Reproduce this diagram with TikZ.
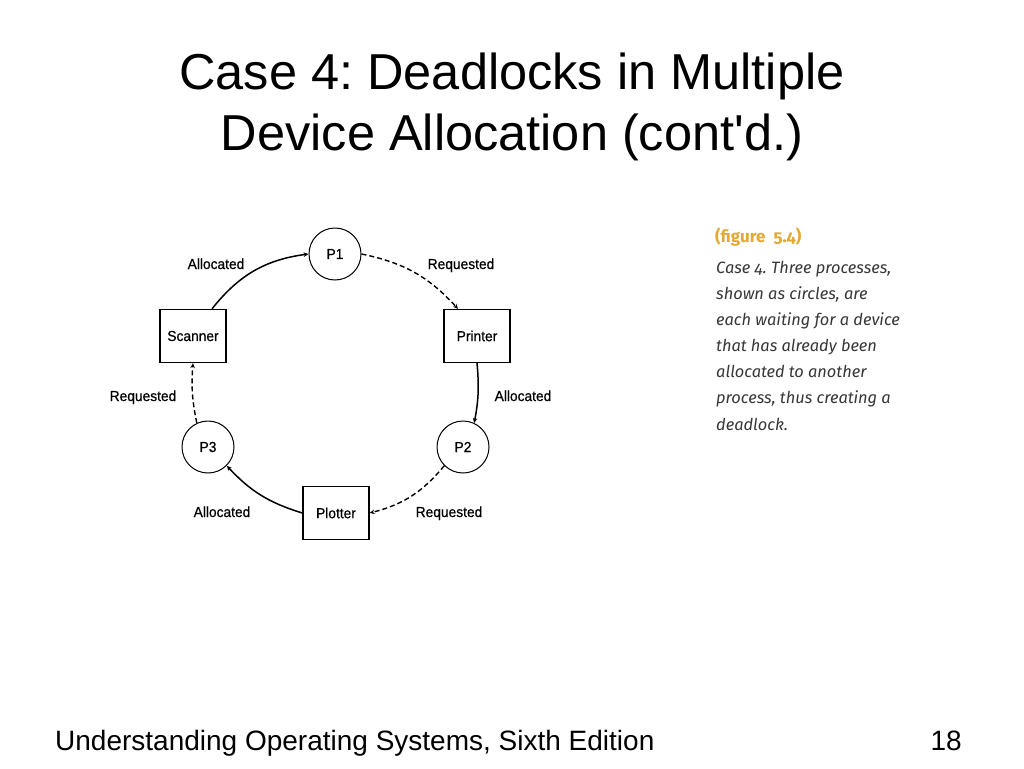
\documentclass[tikz,border=0pt]{standalone}
\usepackage{fontspec}
\setmainfont{Liberation Sans}
\newfontfamily\narrowfont[FakeStretch=0.95,FakeBold=0.6]{Liberation Sans}
\newfontfamily\capfont[Numbers=OldStyle]{Fira Sans}
\usetikzlibrary{arrows.meta}
\definecolor{capgold}{RGB}{228,168,52}
\definecolor{capgray}{RGB}{55,55,55}
\frenchspacing
\tikzset{
  proc/.style={draw, circle, line width=1pt, minimum size=52pt, inner sep=0pt, font=\narrowfont\fontsize{14.5}{16}\selectfont},
  dev/.style={draw, rectangle, line width=1.3pt, minimum width=66pt, minimum height=53pt, inner sep=0pt, font=\narrowfont\fontsize{14.5}{16}\selectfont},
  lbl/.style={anchor=base, inner sep=0pt, font=\narrowfont\fontsize{14.5}{16}\selectfont},
  alloc/.style={line width=1.5pt, -{Stealth[length=5pt,width=4.5pt]}},
  req/.style={line width=1.4pt, dash pattern=on 5pt off 3pt, -{Stealth[length=5pt,width=4.5pt]}},
  title/.style={anchor=base, inner sep=0pt, font=\fontsize{50.5}{60}\selectfont},
  foot/.style={anchor=base west, inner sep=0pt, font=\fontsize{28}{32}\selectfont},
  capl/.style={anchor=base west, inner sep=0pt, text=capgray, font=\capfont\itshape\fontsize{16.4}{18}\selectfont}
}
\begin{document}
\begin{tikzpicture}[x=1pt,y=-1pt]
\useasboundingbox (0,0) rectangle (1024,768);
\fill[white] (0,0) rectangle (1024,768);

% title
\node[title] (t1) at (512,89) {Case 4: Deadlocks in Multiple};
\node[title] (t2) at (512,150) {Device Allocation (cont\textquotesingle d.)};

% diagram nodes
\node[proc] (p1) at (335,254) {P1};
\node[proc] (p2) at (463,447) {P2};
\node[proc] (p3) at (208,447) {P3};
\node[dev] (scanner) at (193,336) {Scanner};
\node[dev] (printer) at (477,336) {Printer};
\node[dev] (plotter) at (336,513) {Plotter};

% connectors
\draw[alloc] (scanner.55) to[bend left=22] (p1.west);
\draw[req] (p1.east) to[bend left=18] (printer.125);
\draw[alloc] (printer.south) to[bend left=8] (p2.65);
\draw[req] (p2.225) to[bend left=18] (plotter.east);
\draw[alloc] (plotter.west) to[bend left=15] (p3.-45);
\draw[req] (p3.115) to[bend left=8] (scanner.south);

% labels
\node[lbl] (l1) at (216,269) {Allocated};
\node[lbl] (l2) at (461,269) {Requested};
\node[lbl] (l3) at (143,401) {Requested};
\node[lbl] (l4) at (523,401) {Allocated};
\node[lbl] (l5) at (222,517) {Allocated};
\node[lbl] (l6) at (449,517) {Requested};

% caption
\node[anchor=base west, inner sep=0pt, text=capgold, font=\capfont\bfseries\fontsize{17}{18}\selectfont] (cap0) at (715,242) {(figure\ \ 5.4)};
\node[capl] (c1) at (716,273) {Case 4. Three processes,};
\node[capl] (c2) at (716,299) {shown as circles, are};
\node[capl] (c3) at (716,325) {each waiting for a device};
\node[capl] (c4) at (716,351) {that has already been};
\node[capl] (c5) at (716,377) {allocated to another};
\node[capl] (c6) at (716,403) {process, thus creating a};
\node[capl] (c7) at (716,430) {deadlock.};

% footer
\node[foot] (f1) at (55,750) {Understanding Operating Systems, Sixth Edition};
\node[anchor=base east, inner sep=0pt, font=\fontsize{28}{32}\selectfont] (f2) at (962,750) {18};
\end{tikzpicture}
\end{document}
